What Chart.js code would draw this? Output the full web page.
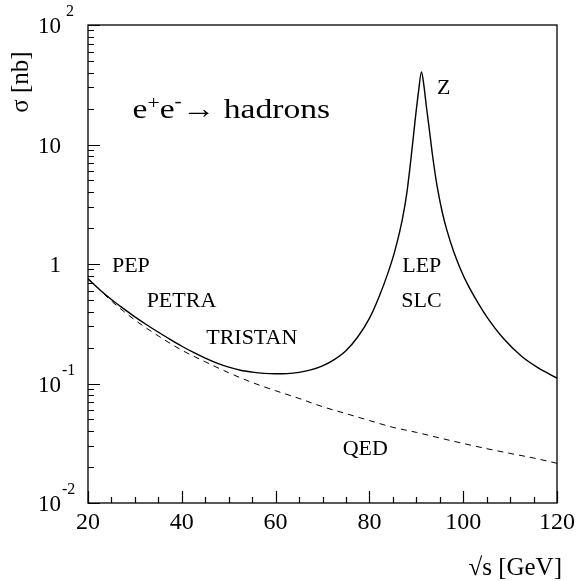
<!DOCTYPE html>
<html>
<head>
<meta charset="utf-8">
<script src="https://cdn.jsdelivr.net/npm/chart.js@4"></script>
<style>
html,body{margin:0;padding:0;background:#fff;}
#wrap{width:580px;height:581px;position:relative;}
</style>
</head>
<body>
<div id="wrap"><canvas id="c" width="580" height="581"></canvas></div>
<script>
// sqrt(s) [GeV] and hadronic cross section [nb] (solid curve)
const energy = [20, 22.5, 25, 27.5, 30, 32.5, 35, 37.5, 40, 42.5, 45, 47.5, 50, 52.5, 55, 57.5, 60, 62.5, 65, 67.5, 70, 72.5, 75, 77.5, 80, 82, 84, 85.5, 87, 88, 89, 89.8, 90.5, 91.1, 91.6, 92.2, 92.7, 93.5, 94.4, 95.5, 96.5, 98, 99.5, 101, 103, 105, 108.5, 112.5, 116, 120];
const hadronXsec = [0.750, 0.610, 0.505, 0.425, 0.361, 0.310, 0.269, 0.234, 0.205, 0.182, 0.163, 0.148, 0.137, 0.129, 0.1245, 0.1215, 0.1205, 0.121, 0.124, 0.130, 0.1405, 0.1585, 0.188, 0.245, 0.351, 0.525, 0.851, 1.32, 2.34, 3.98, 8.5, 16.6, 28.2, 40.5, 31.6, 20, 14.1, 7.9, 4.57, 2.75, 1.93, 1.26, 0.891, 0.668, 0.484, 0.363, 0.240, 0.168, 0.135, 0.111];
// QED expectation (dashed curve)
const qedEnergy = [20, 25, 30, 35, 40, 45, 50, 55, 60, 65, 70, 75, 80, 85, 90, 95, 100, 105, 110, 115, 120];
const qedXsec = [0.76, 0.49, 0.34, 0.25, 0.19, 0.152, 0.123, 0.102, 0.087, 0.075, 0.064, 0.056, 0.049, 0.043, 0.039, 0.035, 0.0315, 0.0285, 0.026, 0.0238, 0.0215];
// axis ticks
const xMajorTicks = [20, 40, 60, 80, 100, 120];
const xMinorTicks = [25, 30, 35, 45, 50, 55, 65, 70, 75, 85, 90, 95, 105, 110, 115];
const yMajorTicks = [0.01, 0.1, 1, 10, 100];
const yTickBase = ['10', '10', '1', '10', '10'];
const yTickExp = ['-2', '-1', '', '', ' 2'];
const yMinorMult = [2, 3, 4, 5, 6, 7, 8, 9];
// text labels
const annotations = [
  {text: 'PEP', x: 25.1, y: 0.96},
  {text: 'PETRA', x: 32.5, y: 0.49},
  {text: 'TRISTAN', x: 45.2, y: 0.239},
  {text: 'LEP', x: 87.0, y: 0.96},
  {text: 'SLC', x: 86.8, y: 0.49},
  {text: 'QED', x: 74.3, y: 0.0284},
  {text: 'Z', x: 94.4, y: 29.3}
];

const FONT = '"Liberation Serif", "Times New Roman", serif';

const decor = {
  id: 'decor',
  afterDraw(chart) {
    const ctx = chart.ctx;
    const xs = chart.scales.x, ys = chart.scales.y;
    const a = chart.chartArea;
    ctx.save();
    ctx.strokeStyle = '#000';
    ctx.fillStyle = '#000';
    // frame
    ctx.lineWidth = 1.3;
    ctx.strokeRect(a.left, a.top, a.right - a.left, a.bottom - a.top);
    // x ticks (inside, pointing up)
    ctx.lineWidth = 1.2;
    ctx.beginPath();
    xMajorTicks.forEach(v => { const p = Math.round(xs.getPixelForValue(v)) + 0.5; ctx.moveTo(p, a.bottom); ctx.lineTo(p, a.bottom - 12); });
    xMinorTicks.forEach(v => { const p = Math.round(xs.getPixelForValue(v)) + 0.5; ctx.moveTo(p, a.bottom); ctx.lineTo(p, a.bottom - 6); });
    // y ticks (inside, pointing right)
    yMajorTicks.forEach(v => { const p = Math.round(ys.getPixelForValue(v)) + 0.5; ctx.moveTo(a.left, p); ctx.lineTo(a.left + 12, p); });
    yMajorTicks.slice(0, 4).forEach(d => yMinorMult.forEach(m => {
      const p = Math.round(ys.getPixelForValue(d * m)) + 0.5; ctx.moveTo(a.left, p); ctx.lineTo(a.left + 6, p);
    }));
    ctx.stroke();
    // y tick labels
    ctx.textBaseline = 'middle';
    yMajorTicks.forEach((v, i) => {
      const p = ys.getPixelForValue(v) + 2;
      ctx.font = '23px ' + FONT;
      ctx.textAlign = 'right';
      ctx.fillText(yTickBase[i], 61, p);
      if (yTickExp[i]) {
        ctx.font = '16px ' + FONT;
        ctx.textAlign = 'left';
        ctx.fillText(yTickExp[i], 62, p - 15);
      }
    });
    // axis titles
    ctx.font = '25px ' + FONT;
    ctx.textAlign = 'right';
    ctx.fillText('\u221As [GeV]', 562, 568);
    ctx.save();
    ctx.translate(21, 82);
    ctx.rotate(-Math.PI / 2);
    ctx.textAlign = 'center';
    ctx.fillText('\u03C3 [nb]', 0, 0);
    ctx.restore();
    // annotations
    ctx.textAlign = 'left';
    ctx.font = '22px ' + FONT;
    annotations.forEach(t => ctx.fillText(t.text, xs.getPixelForValue(t.x), ys.getPixelForValue(t.y)));
    // process label e+e- -> hadrons
    ctx.save();
    ctx.textBaseline = 'alphabetic';
    const x0 = xs.getPixelForValue(29.5), y0 = 118;
    ctx.translate(x0, y0);
    ctx.scale(1.2, 1);
    let px = 0;
    const big = '28px ' + FONT, small = '18px ' + FONT;
    const parts = [['e', big, 0], ['+', small, -9], ['e', big, 0], ['-', small, -11], ['\u2192 hadrons', big, 0]];
    parts.forEach(([s, f, dy]) => { ctx.font = f; ctx.fillText(s, px, dy); px += ctx.measureText(s).width; });
    ctx.restore();
    ctx.restore();
  }
};

new Chart(document.getElementById('c'), {
  type: 'line',
  data: {
    datasets: [
      {
        label: 'QED',
        data: qedEnergy.map((e, i) => ({x: e, y: qedXsec[i]})),
        borderColor: '#000', borderWidth: 1, borderDash: [6, 5],
        pointRadius: 0, fill: false, cubicInterpolationMode: 'monotone'
      },
      {
        label: 'hadrons',
        data: energy.map((e, i) => ({x: e, y: hadronXsec[i]})),
        borderColor: '#000', borderWidth: 1.4,
        pointRadius: 0, fill: false, cubicInterpolationMode: 'monotone'
      }
    ]
  },
  options: {
    responsive: false,
    animation: false,
    devicePixelRatio: 1,
    layout: {padding: {top: 25, right: 19, left: 0, bottom: 0}},
    plugins: {legend: {display: false}, tooltip: {enabled: false}},
    scales: {
      x: {
        type: 'linear', min: 20, max: 120,
        grid: {display: false, drawTicks: false},
        border: {display: false},
        ticks: {stepSize: 20, color: '#000', font: {family: FONT, size: 24}, padding: 5, maxRotation: 0},
        afterFit: s => { s.height = 78; }
      },
      y: {
        type: 'logarithmic', min: 0.01, max: 100,
        grid: {display: false, drawTicks: false},
        border: {display: false},
        ticks: {display: false},
        afterFit: s => { s.width = 88; }
      }
    }
  },
  plugins: [decor]
});
</script>
</body>
</html>
